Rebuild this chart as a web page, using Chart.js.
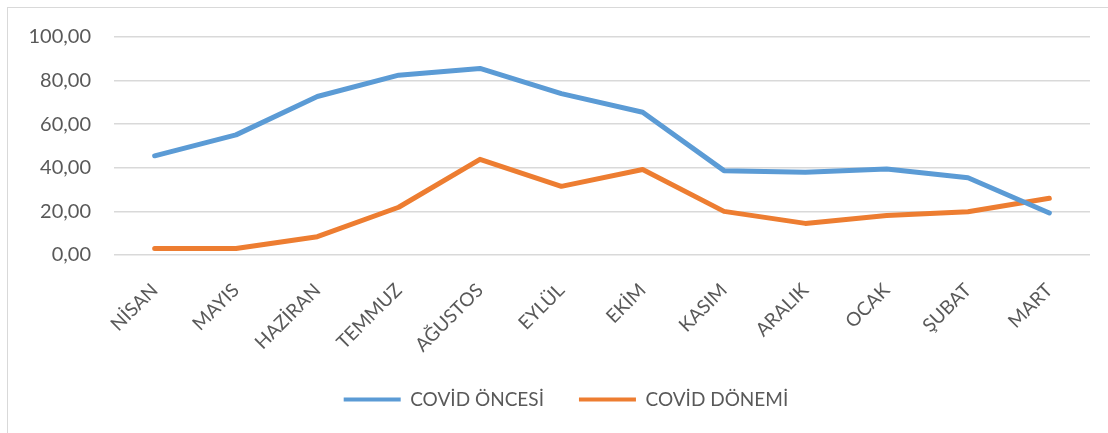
<!DOCTYPE html>
<html>
<head>
<meta charset="utf-8">
<script src="https://cdn.jsdelivr.net/npm/chart.js@4/dist/chart.umd.min.js"></script>
<style>
  html, body { margin: 0; padding: 0; background: #ffffff; }
  #wrap { position: relative; width: 1108px; height: 433px; overflow: hidden; }
  #frame { position: absolute; left: 7px; top: 7px; width: 1200px; height: 500px; border: 1px solid #D9D9D9; box-sizing: border-box; }
  canvas { position: absolute; left: 0; top: 0; }
</style>
</head>
<body>
<div id="wrap">
  <div id="frame"></div>
  <canvas id="c" width="1108" height="433"></canvas>
</div>
<script>
const months = ["NİSAN", "MAYIS", "HAZİRAN", "TEMMUZ", "AĞUSTOS", "EYLÜL", "EKİM", "KASIM", "ARALIK", "OCAK", "ŞUBAT", "MART"];
const covidOncesi = [45.5, 55.1, 72.7, 82.5, 85.6, 74.0, 65.5, 38.7, 38.0, 39.5, 35.4, 19.3];
const covidDonemi = [3.0, 3.0, 8.4, 21.9, 43.9, 31.5, 39.2, 20.0, 14.5, 18.1, 19.8, 26.0];
const seriesNames = ["COVİD ÖNCESİ", "COVİD DÖNEMİ"];
const yTicks = [0, 20, 40, 60, 80, 100];

const FONT = "Lato, 'Open Sans', sans-serif";
const TEXT = "#595959";

const shiftLegend = {
  id: 'shiftLegend',
  afterLayout(chart) {
    if (chart.legend) { chart.legend.left += 28; }
  }
};

new Chart(document.getElementById('c'), {
  type: 'line',
  data: {
    labels: months,
    datasets: [
      { label: seriesNames[0], data: covidOncesi, borderColor: '#5B9BD5', backgroundColor: '#5B9BD5',
        borderWidth: 5, pointRadius: 0, tension: 0, borderJoinStyle: 'round', borderCapStyle: 'round' },
      { label: seriesNames[1], data: covidDonemi, borderColor: '#ED7D31', backgroundColor: '#ED7D31',
        borderWidth: 5, pointRadius: 0, tension: 0, borderJoinStyle: 'round', borderCapStyle: 'round' }
    ]
  },
  plugins: [shiftLegend],
  options: {
    responsive: false,
    animation: false,
    devicePixelRatio: 1,
    layout: { padding: { left: 14, right: 18, top: 37, bottom: 14 } },
    plugins: {
      tooltip: { enabled: false },
      legend: {
        position: 'bottom',
        labels: {
          color: TEXT,
          font: { family: FONT, size: 19 },
          boxWidth: 57,
          boxHeight: 4,
          padding: 35,
          generateLabels(chart) {
            return chart.data.datasets.map((ds, i) => ({
              text: ds.label, fillStyle: ds.borderColor, strokeStyle: ds.borderColor,
              lineWidth: 0, hidden: false, datasetIndex: i, fontColor: TEXT
            }));
          }
        }
      }
    },
    scales: {
      x: {
        offset: true,
        grid: { display: false, drawTicks: false },
        border: { display: false },
        ticks: { color: TEXT, font: { family: FONT, size: 19 }, minRotation: 45, maxRotation: 45, padding: 24, autoSkip: false },
        afterFit(scale) { scale.height = 100; }
      },
      y: {
        min: 0, max: 100,
        afterBuildTicks(scale) { scale.ticks = yTicks.map(v => ({ value: v })); },
        grid: { color: '#D9D9D9', lineWidth: 1.5, drawTicks: false },
        border: { display: false },
        ticks: {
          color: TEXT, font: { family: FONT, size: 20 }, padding: 23,
          callback: v => v.toFixed(2).replace('.', ',')
        },
        afterFit(scale) { scale.width = 100; }
      }
    }
  }
});
</script>
</body>
</html>
